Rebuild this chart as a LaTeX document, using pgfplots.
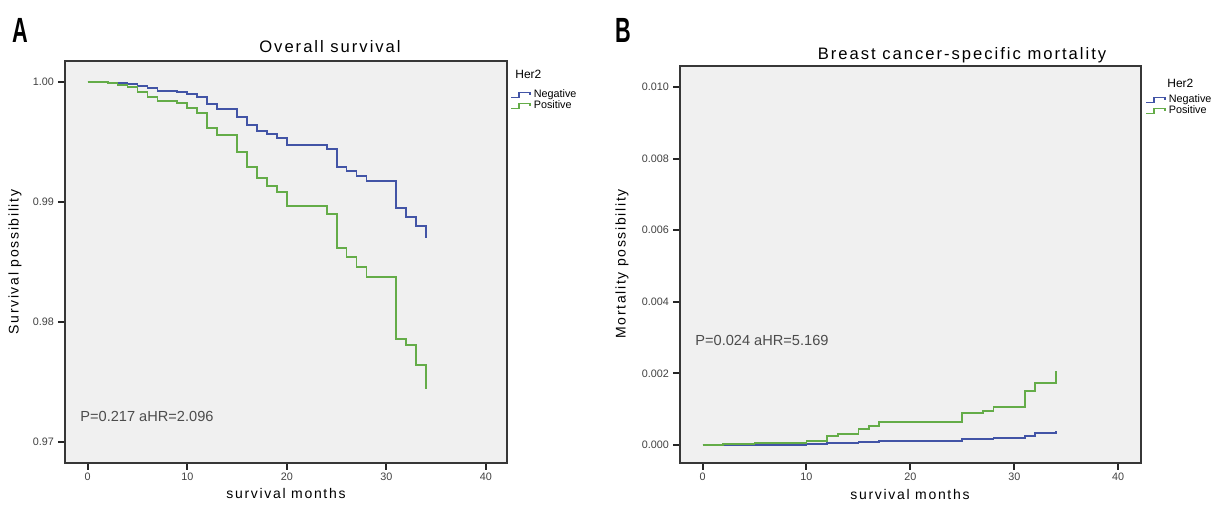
\documentclass[border=0pt]{standalone}
\usepackage{fontspec}
\setmainfont{Liberation Sans}
\newfontfamily\spaced[LetterSpace=12]{Liberation Sans}
\usepackage{graphicx}
\usepackage{pgfplots}
\pgfplotsset{compat=1.18}

\definecolor{negblue}{RGB}{66,84,166}
\definecolor{posgreen}{RGB}{100,172,72}
\definecolor{panelbg}{RGB}{240,240,240}
\definecolor{framegray}{RGB}{55,55,55}

\pgfplotsset{
  kmstyle/.style={
    scale only axis,
    anchor=south west,
    axis background/.style={fill=panelbg},
    axis line style={draw=framegray, line width=1pt},
    tick align=outside,
    major tick length=3.5pt,
    xtick pos=bottom, ytick pos=left,
    tick style={draw=black!85, line width=1pt},
    tick label style={font=\fontsize{5.4}{6}\selectfont, text=black!75},
    xticklabel style={yshift=2pt},
    /pgf/number format/assume math mode=true,
    scaled y ticks=false,
    xtick={0,10,20,30,40},
    legend cell align=left,
    legend style={draw=none, fill=none, inner sep=0pt, row sep=-1pt, column sep=1pt,
      font=\fontsize{5.4}{5.6}\selectfont, nodes={inner sep=0.6pt}},
    legend image code/.code={
      \draw[#1, line width=0.6pt] (0pt,-1.3pt) -- (4pt,-1.3pt) -- (4pt,1.3pt) -- (9.5pt,1.3pt) -- (9.5pt,0pt);},
  },
  km/.style={line width=0.9pt, const plot, mark=none},
}

\begin{document}
\begin{tikzpicture}
\path[use as bounding box] (0,0) rectangle (616pt,-253pt);

% ---------- A: overall survival ----------
\begin{axis}[kmstyle,
  at={(32.5pt,-231.5pt)}, width=221pt, height=201pt,
  xmin=-2.28, xmax=42.11, ymin=0.96825, ymax=1.00175,
  ytick={0.97,0.98,0.99,1.00},
  yticklabel style={xshift=1.5pt, /pgf/number format/.cd, fixed, fixed zerofill, precision=2},
  legend style={at={(rel axis cs:1,1)}, anchor=north west, xshift=1.5pt, yshift=-13.5pt},
]
\addplot[km, negblue] coordinates {
  (0,1.0) (2,0.99994) (3,0.99989) (4,0.99981) (5,0.99967) (6,0.99947)
  (7,0.99925) (9,0.99914) (10,0.99897) (11,0.99872) (12,0.99814)
  (13,0.99775) (15,0.99706) (16,0.99642) (17,0.99594) (18,0.99567)
  (19,0.99531) (20,0.99475) (24,0.99442) (25,0.99294) (26,0.99261)
  (27,0.99217) (28,0.99178) (31,0.98947) (32,0.98878) (33,0.98803)
  (34,0.98697)
};
\addlegendentry{Negative}
\addplot[km, posgreen] coordinates {
  (0,1.0) (2,0.99989) (3,0.99975) (4,0.99961) (5,0.99914) (6,0.99878)
  (7,0.99842) (9,0.99822) (10,0.99781) (11,0.99739) (12,0.99614)
  (13,0.99558) (15,0.99419) (16,0.99289) (17,0.99197) (18,0.99133)
  (19,0.99081) (20,0.98967) (24,0.98900) (25,0.98614) (26,0.98544)
  (27,0.98461) (28,0.98372) (31,0.97861) (32,0.97806) (33,0.97642)
  (34,0.97442)
};
\addlegendentry{Positive}
\end{axis}

% ---------- B: breast cancer-specific mortality ----------
\begin{axis}[kmstyle,
  at={(340pt,-231.5pt)}, width=230.5pt, height=198.5pt,
  xmin=-2.17, xmax=42.2, ymin=-0.000503, ymax=0.010587,
  ytick={0,0.002,0.004,0.006,0.008,0.010},
  yticklabel style={xshift=1.5pt, /pgf/number format/.cd, fixed, fixed zerofill, precision=3},
  legend style={at={(rel axis cs:1,1)}, anchor=north west, xshift=2pt, yshift=-13.5pt},
]
\addplot[km, negblue] coordinates {
  (0,0) (5,0.00001) (10,0.00002) (12,0.00006) (15,0.00009) (17,0.00012)
  (25,0.00016) (28,0.00020) (31,0.00026) (32,0.00034) (34,0.00040)
};
\addlegendentry{Negative}
\addplot[km, posgreen] coordinates {
  (0,0) (2,0.00002) (5,0.00005) (10,0.00011) (12,0.00024) (13,0.00031)
  (15,0.00045) (16,0.00053) (17,0.00065) (25,0.00089) (27,0.00095)
  (28,0.00107) (31,0.00150) (32,0.00174) (34,0.00208)
};
\addlegendentry{Positive}
\end{axis}

% panel letters
\node at (10pt,-15pt) {\fontsize{17.5}{18}\selectfont\bfseries\scalebox{0.62}[1]{A}};
\node at (311.5pt,-15pt) {\fontsize{17.5}{18}\selectfont\bfseries\scalebox{0.62}[1]{B}};

% titles
\node at (165pt,-23.5pt) {\fontsize{8.3}{9}\selectfont\spaced Overall survival};
\node at (481pt,-27.5pt) {\fontsize{8.3}{9}\selectfont\spaced Breast cancer-specific mortality};

% axis labels
\node at (143pt,-247pt) {\fontsize{7}{8}\selectfont\spaced survival months};
\node at (455pt,-247.5pt) {\fontsize{7}{8}\selectfont\spaced survival months};
\node[rotate=90] at (7.5pt,-131pt) {\fontsize{7}{8}\selectfont\spaced Survival possibility};
\node[rotate=90] at (311pt,-132pt) {\fontsize{7}{8}\selectfont\spaced Mortality possibility};

% legend headings
\node[anchor=west, inner sep=0pt] at (257.5pt,-37pt) {\fontsize{6}{7}\selectfont Her2};
\node[anchor=west, inner sep=0pt] at (583.5pt,-41.5pt) {\fontsize{6}{7}\selectfont Her2};

% statistics
\node[anchor=west, inner sep=0pt, text=black!70] at (40pt,-208pt) {\fontsize{7.3}{8}\selectfont P=0.217 aHR=2.096};
\node[anchor=west, inner sep=0pt, text=black!70] at (347.5pt,-170pt) {\fontsize{7.3}{8}\selectfont P=0.024 aHR=5.169};
\end{tikzpicture}
\end{document}
